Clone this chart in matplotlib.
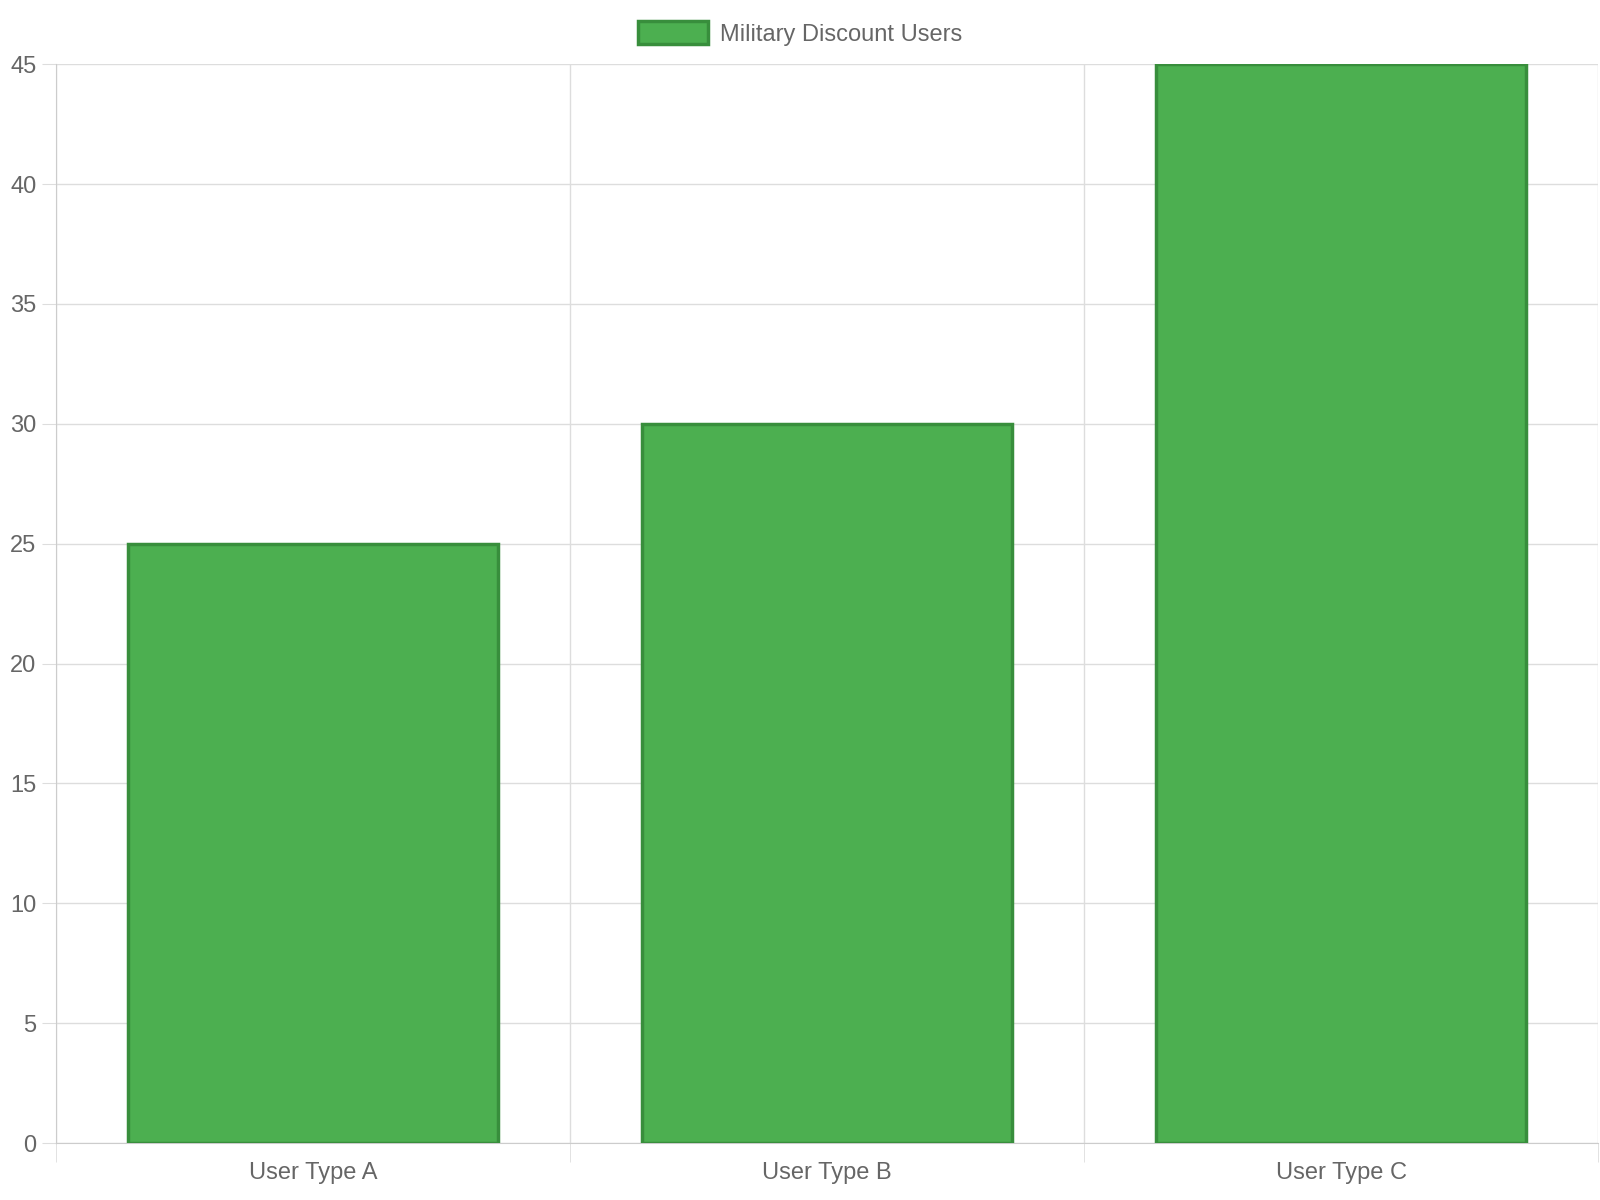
import matplotlib
matplotlib.use("Agg")
import matplotlib.pyplot as plt
import numpy as np

categories = ["User Type A", "User Type B", "User Type C"]
values = [25, 30, 45]
series_name = "Military Discount Users"

plt.rcParams['font.family'] = ['Liberation Sans', 'DejaVu Sans']
fig = plt.figure(figsize=(16, 12), dpi=100)
ax = fig.add_axes([0.035, 0.0475, 0.964, 0.899])

x = np.arange(len(categories))
ax.bar(x, values, width=0.72, color="#4CAF50", edgecolor="#388E3C", linewidth=2.5,
       label=series_name, zorder=3)

ax.set_xlim(-0.5, len(categories) - 0.5)
ax.set_ylim(0, 45)
ax.set_yticks(range(0, 46, 5))
ax.set_xticks(x)
ax.set_xticklabels(categories)
ax.set_xticks(np.arange(-0.5, len(categories), 1), minor=True)
ax.grid(True, which="minor", axis="x", color="#dddddd", linewidth=1, zorder=0)
ax.grid(True, which="major", axis="y", color="#dddddd", linewidth=1, zorder=0)
ax.tick_params(axis="x", which="major", length=0, pad=14, labelsize=17, labelcolor="#666666")
ax.tick_params(axis="x", which="minor", length=14, color="#dddddd")
ax.tick_params(axis="y", length=10, color="#dddddd", labelsize=17, labelcolor="#666666", pad=4)
for s in ["top", "right"]:
    ax.spines[s].set_visible(False)
for s in ["left", "bottom"]:
    ax.spines[s].set_color("#cccccc")

leg = fig.legend(loc="upper center", bbox_to_anchor=(0.5, 1.0), frameon=False,
                 fontsize=17, labelcolor="#666666", handlelength=3, handleheight=1.1,
                 handletextpad=0.5)

fig.savefig("out.png", dpi=100)
